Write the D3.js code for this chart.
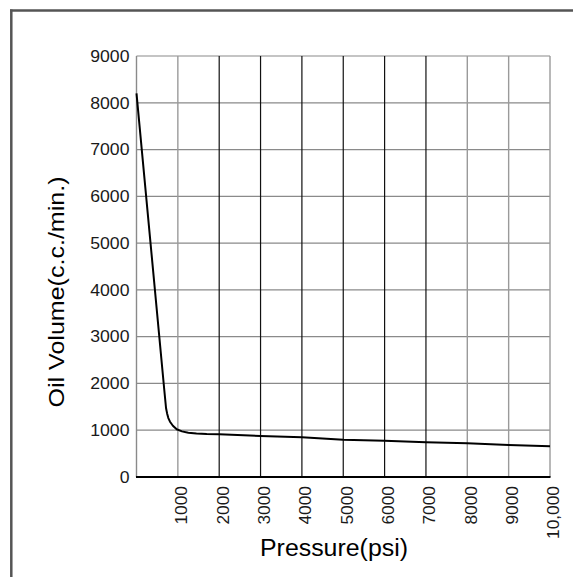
<!DOCTYPE html>
<html>
<head>
<meta charset="utf-8">
<script src="https://cdn.jsdelivr.net/npm/d3@7"></script>
<style>
  html, body { margin: 0; padding: 0; background: #fff; }
  svg { display: block; }
  text { font-family: "Liberation Sans", Arial, sans-serif; }
</style>
</head>
<body>
<svg id="chart" width="573" height="577"></svg>
<script>
// Data
const pressure = [0, 672, 715, 740, 770, 810, 880, 972, 1100, 1253, 1450, 1698, 2000, 3000, 4000, 5000, 6000, 7000, 8000, 9000, 10000];
const oilVolume = [8200, 1860, 1470, 1360, 1260, 1182, 1095, 1020, 975, 947, 930, 919, 912, 876, 848, 797, 776, 741, 720, 684, 656];
const xTicks = [1000, 2000, 3000, 4000, 5000, 6000, 7000, 8000, 9000, 10000];
const xTickLabels = ["1000", "2000", "3000", "4000", "5000", "6000", "7000", "8000", "9000", "10,000"];
const yTicks = [0, 1000, 2000, 3000, 4000, 5000, 6000, 7000, 8000, 9000];
const darkVerticals = [2000, 3000, 4000, 5000, 6000, 7000];
const xTitle = "Pressure(psi)";
const yTitle = "Oil Volume(c.c./min.)";

const svg = d3.select("#chart");
const plot = { left: 136.5, right: 550, top: 56, bottom: 477 };

const x = d3.scaleLinear().domain([0, 10000]).range([plot.left, plot.right]);
const y = d3.scaleLinear().domain([0, 9000]).range([plot.bottom, plot.top]);

// outer frame (partial, as in the reference)
svg.append("line").attr("x1", 10).attr("x2", 573).attr("y1", 10.5).attr("y2", 10.5)
  .attr("stroke", "#555").attr("stroke-width", 2.5);
svg.append("line").attr("x1", 11.3).attr("x2", 11.3).attr("y1", 9.5).attr("y2", 577)
  .attr("stroke", "#555").attr("stroke-width", 2.5);

// horizontal grid
svg.append("g").selectAll("line").data(yTicks.filter(d => d > 0)).join("line")
  .attr("x1", plot.left).attr("x2", plot.right)
  .attr("y1", d => y(d)).attr("y2", d => y(d))
  .attr("stroke", "#8a8a8a").attr("stroke-width", 1.2);

// vertical grid
svg.append("g").selectAll("line").data(xTicks).join("line")
  .attr("x1", d => x(d)).attr("x2", d => x(d))
  .attr("y1", plot.top).attr("y2", plot.bottom)
  .attr("stroke", d => darkVerticals.includes(d) ? "#111" : "#9a9a9a")
  .attr("stroke-width", d => darkVerticals.includes(d) ? 1.2 : 1.4);

// left axis line
svg.append("line").attr("x1", plot.left).attr("x2", plot.left)
  .attr("y1", plot.top).attr("y2", plot.bottom)
  .attr("stroke", "#8a8a8a").attr("stroke-width", 1.4);

// y axis
const yAxis = d3.axisLeft(y).tickValues(yTicks).tickSize(0).tickPadding(7).tickFormat(d3.format("d"));
const gy = svg.append("g").attr("transform", `translate(${plot.left},0)`).call(yAxis);
gy.select(".domain").remove();
gy.selectAll("text").attr("font-size", 16.5).attr("fill", "#1a1a1a")
  .attr("font-family", "Liberation Sans, Arial, sans-serif")
  .attr("transform", "scale(1.07,1)").attr("x", -7 / 1.07);

// x axis
const xAxis = d3.axisBottom(x).tickValues(xTicks).tickSize(0)
  .tickFormat((d, i) => xTickLabels[i]);
const gx = svg.append("g").attr("transform", `translate(0,${plot.bottom})`).call(xAxis);
gx.select(".domain").remove();
gx.selectAll("text")
  .attr("font-size", 16.5).attr("fill", "#1a1a1a")
  .attr("font-family", "Liberation Sans, Arial, sans-serif")
  .attr("text-anchor", "end")
  .attr("transform", "translate(3,9) rotate(-90) scale(1.05,1)")
  .attr("x", 0).attr("y", 0).attr("dy", "0.36em");

// bottom axis line
svg.append("line").attr("x1", plot.left - 0.5).attr("x2", plot.right + 0.5)
  .attr("y1", plot.bottom).attr("y2", plot.bottom)
  .attr("stroke", "#000").attr("stroke-width", 2);

// curve
const line = d3.line().x((d, i) => x(pressure[i])).y(d => y(d)).curve(d3.curveLinear);
svg.append("path").datum(oilVolume).attr("d", line)
  .attr("fill", "none").attr("stroke", "#000").attr("stroke-width", 2).attr("stroke-linejoin", "round");

// axis titles
svg.append("text").text(xTitle)
  .attr("x", 334).attr("y", 556).attr("text-anchor", "middle")
  .attr("font-size", 23).attr("fill", "#000")
  .attr("textLength", 148).attr("lengthAdjust", "spacingAndGlyphs");

svg.append("text").text(yTitle)
  .attr("transform", "translate(64,292) rotate(-90)").attr("text-anchor", "middle")
  .attr("font-size", 22.5).attr("fill", "#000")
  .attr("textLength", 231).attr("lengthAdjust", "spacingAndGlyphs");
</script>
</body>
</html>
